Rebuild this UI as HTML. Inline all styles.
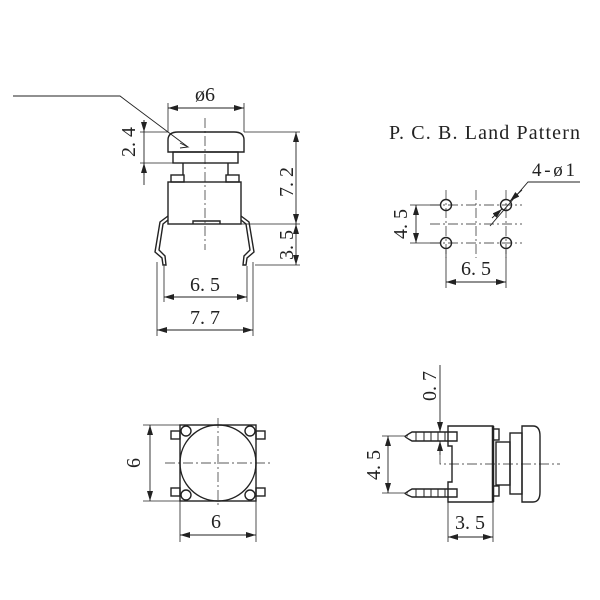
<!DOCTYPE html>
<html><head><style>
html,body{margin:0;padding:0;background:#fff;}
svg{display:block;}
text{font-family:"Liberation Serif",serif;fill:#222;}
</style></head><body>
<svg width="600" height="600" viewBox="0 0 600 600" xmlns="http://www.w3.org/2000/svg">
<defs>
<marker id="a" viewBox="0 0 10 6" refX="10" refY="3" markerWidth="10" markerHeight="6" orient="auto-start-reverse" markerUnits="userSpaceOnUse"><path d="M0,0 L10,3 L0,6 Z" fill="#222"/></marker>
</defs>
<g stroke="#222" stroke-width="1.4" fill="none">
<path d="M13,96 H120 L188,147" stroke-width="0.9"/>
<path d="M180,143 L188,147 L180,148" stroke-width="0.9"/>
<line x1="168" y1="108" x2="244" y2="108" marker-start="url(#a)" marker-end="url(#a)" stroke-width="0.9"/>
<line x1="168" y1="103" x2="168" y2="132" stroke-width="0.8"/>
<line x1="244" y1="103" x2="244" y2="132" stroke-width="0.8"/>
<path d="M168,152 V140 Q168,132 178,132 H234 Q244,132 244,140 V152 Z"/>
<rect x="173" y="152" width="65" height="11"/>
<line x1="183" y1="163" x2="183" y2="175"/><line x1="228" y1="163" x2="228" y2="175"/>
<rect x="171" y="175" width="13" height="7"/>
<rect x="226" y="175" width="13" height="7"/>
<rect x="168" y="182" width="73" height="42"/>
<path d="M193,224 V221 H220 V224"/>
<path d="M168,216 L160,222 L155,252 L162,258 L163,265 L166,265 L165,256 L159,250 L163,224 L168,220"/>
<path d="M241,216 L249,222 L254,252 L247,258 L246,265 L243,265 L244,256 L250,250 L246,224 L241,220"/>
<line x1="205" y1="118" x2="205" y2="250" stroke-width="0.7" stroke-dasharray="10,3,2,3"/>
<line x1="144" y1="120" x2="144" y2="185" stroke-width="0.9"/>
<line x1="144" y1="120" x2="144" y2="132" marker-end="url(#a)" stroke-width="0.9"/>
<line x1="144" y1="175" x2="144" y2="163" marker-end="url(#a)" stroke-width="0.9"/>
<line x1="140" y1="132" x2="168" y2="132" stroke-width="0.8"/>
<line x1="140" y1="163" x2="173" y2="163" stroke-width="0.8"/>
<line x1="244" y1="132" x2="300" y2="132" stroke-width="0.8"/>
<line x1="241" y1="224" x2="300" y2="224" stroke-width="0.8"/>
<line x1="255" y1="265" x2="300" y2="265" stroke-width="0.8"/>
<line x1="296" y1="132" x2="296" y2="224" marker-start="url(#a)" marker-end="url(#a)" stroke-width="0.9"/>
<line x1="296" y1="224" x2="296" y2="265" marker-start="url(#a)" marker-end="url(#a)" stroke-width="0.9"/>
<line x1="164" y1="266" x2="164" y2="302" stroke-width="0.8"/>
<line x1="247" y1="266" x2="247" y2="302" stroke-width="0.8"/>
<line x1="164" y1="297" x2="247" y2="297" marker-start="url(#a)" marker-end="url(#a)" stroke-width="0.9"/>
<line x1="157" y1="262" x2="157" y2="336" stroke-width="0.8"/>
<line x1="253" y1="262" x2="253" y2="336" stroke-width="0.8"/>
<line x1="157" y1="330" x2="253" y2="330" marker-start="url(#a)" marker-end="url(#a)" stroke-width="0.9"/>

<g stroke-width="0.7" stroke-dasharray="10,3,2,3">
<line x1="430" y1="205" x2="522" y2="205"/><line x1="430" y1="243" x2="522" y2="243"/><line x1="430" y1="224" x2="522" y2="224"/>
<line x1="446" y1="190" x2="446" y2="258"/><line x1="506" y1="190" x2="506" y2="258"/><line x1="476" y1="190" x2="476" y2="258"/>
</g>
<circle cx="446" cy="205" r="5.5"/><circle cx="506" cy="205" r="5.5"/><circle cx="446" cy="243" r="5.5"/><circle cx="506" cy="243" r="5.5"/>
<path d="M580,182 H528 L490,226" stroke-width="0.9"/>
<line x1="522" y1="190" x2="510" y2="201" marker-end="url(#a)" stroke-width="0.9"/>
<line x1="492" y1="218" x2="502" y2="209" marker-end="url(#a)" stroke-width="0.9"/>
<line x1="410" y1="205" x2="441" y2="205" stroke-width="0.8"/>
<line x1="410" y1="243" x2="441" y2="243" stroke-width="0.8"/>
<line x1="416" y1="205" x2="416" y2="243" marker-start="url(#a)" marker-end="url(#a)" stroke-width="0.9"/>
<line x1="446" y1="250" x2="446" y2="288" stroke-width="0.8"/>
<line x1="506" y1="250" x2="506" y2="288" stroke-width="0.8"/>
<line x1="446" y1="282" x2="506" y2="282" marker-start="url(#a)" marker-end="url(#a)" stroke-width="0.9"/>

<rect x="180" y="425" width="76" height="76"/>
<rect x="171" y="431" width="9" height="8"/><rect x="171" y="488" width="9" height="8"/>
<rect x="256" y="431" width="9" height="8"/><rect x="256" y="488" width="9" height="8"/>
<circle cx="218" cy="463" r="38"/>
<circle cx="186" cy="431" r="5"/><circle cx="250" cy="431" r="5"/><circle cx="186" cy="495" r="5"/><circle cx="250" cy="495" r="5"/>
<line x1="165" y1="463" x2="271" y2="463" stroke-width="0.7" stroke-dasharray="10,3,2,3"/>
<line x1="218" y1="418" x2="218" y2="508" stroke-width="0.7" stroke-dasharray="10,3,2,3"/>
<line x1="143" y1="425" x2="180" y2="425" stroke-width="0.8"/>
<line x1="143" y1="501" x2="180" y2="501" stroke-width="0.8"/>
<line x1="150" y1="425" x2="150" y2="501" marker-start="url(#a)" marker-end="url(#a)" stroke-width="0.9"/>
<line x1="180" y1="501" x2="180" y2="542" stroke-width="0.8"/>
<line x1="256" y1="501" x2="256" y2="542" stroke-width="0.8"/>
<line x1="180" y1="535" x2="256" y2="535" marker-start="url(#a)" marker-end="url(#a)" stroke-width="0.9"/>

<path d="M448,426 H493 V502 H448 V482 H452 V446 H448 Z"/>
<line x1="493" y1="426" x2="493" y2="502" stroke-width="2.5"/>
<rect x="493" y="429" width="6" height="11"/><rect x="493" y="486" width="6" height="10"/>
<rect x="496" y="442" width="14" height="43"/>
<rect x="510" y="433" width="12" height="61"/>
<path d="M522,426 H533 Q540,426 540,436 V492 Q540,502 533,502 H522 Z"/>
<path d="M457,432 H412 Q405,436 405,436.5 Q405,437 412,441 H457 Z"/>
<path d="M457,489 H412 Q405,493 405,493.5 Q405,494 412,497 H457 Z"/>
<g stroke-width="1"><line x1="416" y1="432" x2="416" y2="441"/><line x1="424" y1="432" x2="424" y2="441"/><line x1="431" y1="432" x2="431" y2="441"/><line x1="438" y1="432" x2="438" y2="441"/><line x1="445" y1="432" x2="445" y2="441"/>
<line x1="416" y1="489" x2="416" y2="497"/><line x1="424" y1="489" x2="424" y2="497"/><line x1="431" y1="489" x2="431" y2="497"/><line x1="438" y1="489" x2="438" y2="497"/><line x1="445" y1="489" x2="445" y2="497"/></g>
<line x1="440" y1="365" x2="440" y2="432" marker-end="url(#a)" stroke-width="0.9"/>
<line x1="440" y1="455" x2="440" y2="441" marker-end="url(#a)" stroke-width="0.9"/>
<path d="M440,455 V464 H560" stroke-width="0.7" stroke-dasharray="10,3,2,3"/>
<line x1="382" y1="436" x2="408" y2="436" stroke-width="0.8"/>
<line x1="382" y1="493" x2="408" y2="493" stroke-width="0.8"/>
<line x1="388" y1="436" x2="388" y2="493" marker-start="url(#a)" marker-end="url(#a)" stroke-width="0.9"/>
<line x1="448" y1="502" x2="448" y2="542" stroke-width="0.8"/>
<line x1="493" y1="502" x2="493" y2="542" stroke-width="0.8"/>
<line x1="448" y1="537" x2="493" y2="537" marker-start="url(#a)" marker-end="url(#a)" stroke-width="0.9"/>
</g>
<g font-size="20" stroke="none">
<text x="205" y="101" text-anchor="middle">ø6</text>
<text transform="translate(135,142) rotate(-90)" text-anchor="middle">2. 4</text>
<text transform="translate(293,182) rotate(-90)" text-anchor="middle">7. 2</text>
<text transform="translate(293,245) rotate(-90)" text-anchor="middle">3. 5</text>
<text x="205" y="291" text-anchor="middle">6. 5</text>
<text x="205" y="324" text-anchor="middle">7. 7</text>
<text x="389" y="139" font-size="20" textLength="191" lengthAdjust="spacing">P. C. B. Land Pattern</text>
<text x="532" y="176" font-size="19" textLength="43" lengthAdjust="spacing">4-ø1</text>
<text transform="translate(407,224) rotate(-90)" text-anchor="middle">4. 5</text>
<text x="476" y="275" text-anchor="middle">6. 5</text>
<text transform="translate(140,463) rotate(-90)" text-anchor="middle">6</text>
<text x="216" y="528" text-anchor="middle">6</text>
<text transform="translate(436,386) rotate(-90)" text-anchor="middle">0. 7</text>
<text transform="translate(380,465) rotate(-90)" text-anchor="middle">4. 5</text>
<text x="470" y="529" text-anchor="middle">3. 5</text>
</g>
</svg>
</body></html>
